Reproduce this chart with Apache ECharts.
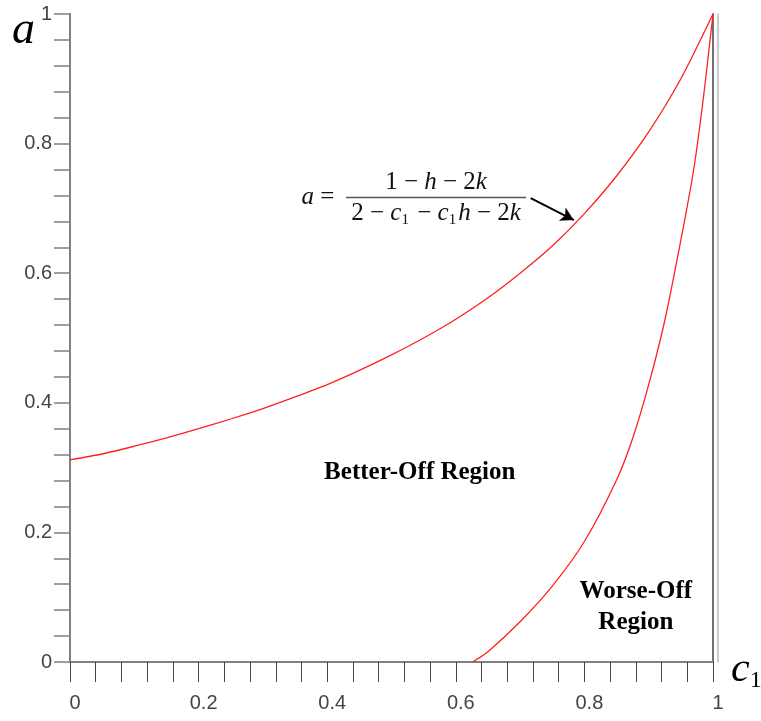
<!DOCTYPE html>
<html>
<head>
<meta charset="utf-8">
<script src="https://cdn.jsdelivr.net/npm/echarts@6/dist/echarts.min.js"></script>
<style>html,body{margin:0;padding:0;background:#fff;}#chart{width:761px;height:721px;}</style>
</head>
<body>
<div id="chart"></div>
<script>
// ---- data ----
const upperC = [0, 0.05, 0.1, 0.15, 0.2, 0.25, 0.3, 0.35, 0.4, 0.45, 0.5, 0.55, 0.6, 0.65, 0.7, 0.75, 0.8, 0.85, 0.9, 0.95, 1.0];
const upperA = [0.312, 0.321, 0.333, 0.346, 0.360, 0.375, 0.391, 0.409, 0.428, 0.450, 0.474, 0.500, 0.529, 0.562, 0.600, 0.642, 0.692, 0.750, 0.818, 0.900, 1.0];
const lowerC = [0.626, 0.65, 0.7, 0.75, 0.8, 0.85, 0.875, 0.9, 0.925, 0.95, 0.97, 0.985, 1.0];
const lowerA = [0, 0.016, 0.062, 0.117, 0.186, 0.281, 0.345, 0.428, 0.527, 0.651, 0.76, 0.87, 1.0];
const tickValues = [0, 0.2, 0.4, 0.6, 0.8, 1];
const regionLabels = [
  { text: 'Better-Off Region', c: 0.544, a: 0.293 },
  { text: 'Worse-Off\nRegion', c: 0.880, a: 0.085 }
];
const formulaLhsPos = [0.3855, 0.7176];
const formulaFracPos = [0.5693, 0.7168];
const arrowFrom = [0.7165, 0.716];
const arrowTo = [0.7835, 0.682];

const zip = (xs, ys) => xs.map((x, i) => [x, ys[i]]);
const fmt = v => {
  const r = Math.round(v * 10) / 10;
  return tickValues.some(t => Math.abs(t - r) < 1e-9) ? String(r) : '';
};

const serif = 'Liberation Serif';
const chart = echarts.init(document.getElementById('chart'), null, { renderer: 'canvas' });
chart.setOption({
  animation: false,
  backgroundColor: '#fff',
  grid: { left: 70, right: 48, top: 14, bottom: 59, containLabel: false, outerBoundsMode: 'none' },
  xAxis: [{
    type: 'value', min: 0, max: 1, interval: 0.2,
    name: '{c|c}{s|1}', nameLocation: 'end', nameGap: 18, nameMoveOverlap: false,
    nameTextStyle: {
      rich: {
        c: { fontFamily: serif, fontStyle: 'italic', fontSize: 42, color: '#000', padding: [16, 0, 0, 0] },
        s: { fontFamily: serif, fontSize: 24, color: '#000', padding: [38, 0, 0, 0] }
      }
    },
    axisLine: { show: true, onZero: false, lineStyle: { color: '#333', width: 1.5 } },
    axisTick: { show: true, inside: false, length: 20, lineStyle: { color: '#444', width: 1 } },
    minorTick: { show: true, splitNumber: 5, length: 20, lineStyle: { color: '#444', width: 1 } },
    axisLabel: { margin: 31, fontFamily: 'Liberation Sans', fontSize: 20, color: '#444', padding: [0, 0, 0, 10], formatter: fmt },
    splitLine: { show: false }, minorSplitLine: { show: false }
  }, {
    type: 'value', min: 0, max: 1, position: 'top',
    axisLine: { show: true, lineStyle: { color: '#808080', width: 2 } },
    axisTick: { show: false }, axisLabel: { show: false }, splitLine: { show: false }
  }],
  yAxis: [{
    type: 'value', min: 0, max: 1, interval: 0.2,
    name: 'a', nameLocation: 'end', nameGap: -17, nameMoveOverlap: false,
    nameTextStyle: { fontFamily: serif, fontStyle: 'italic', fontSize: 46, color: '#000', align: 'right', verticalAlign: 'middle', padding: [0, 35, 0, 0] },
    axisLine: { show: true, onZero: false, lineStyle: { color: '#808080', width: 2 } },
    axisTick: { show: true, inside: false, length: 16, lineStyle: { color: '#808080', width: 1.5 } },
    minorTick: { show: true, splitNumber: 5, length: 16, lineStyle: { color: '#808080', width: 1.5 } },
    axisLabel: { margin: 18, fontFamily: 'Liberation Sans', fontSize: 20, color: '#444', formatter: fmt },
    splitLine: { show: false }, minorSplitLine: { show: false }
  }, {
    type: 'value', min: 0, max: 1, position: 'right',
    axisLine: { show: true, onZero: false, lineStyle: { color: '#707070', width: 2 } },
    axisTick: { show: false }, axisLabel: { show: false }, splitLine: { show: false }
  }, {
    type: 'value', min: 0, max: 1, position: 'right', offset: 5,
    axisLine: { show: true, onZero: false, lineStyle: { color: '#b8b8b8', width: 1.5 } },
    axisTick: { show: false }, axisLabel: { show: false }, splitLine: { show: false }
  }],
  series: [{
    type: 'line', name: 'upper', data: zip(upperC, upperA),
    smooth: 0.25, showSymbol: false, symbol: 'none',
    lineStyle: { color: '#ff2020', width: 1.3 }
  }, {
    type: 'line', name: 'lower', data: zip(lowerC, lowerA),
    smooth: 0.25, showSymbol: false, symbol: 'none',
    lineStyle: { color: '#ff2020', width: 1.3 }
  }, {
    type: 'scatter', name: 'regions', symbolSize: 0, silent: true,
    itemStyle: { opacity: 1 },
    data: regionLabels.map(r => ({ value: [r.c, r.a], name: r.text })),
    label: {
      show: true, position: 'inside', formatter: p => p.name, opacity: 1,
      fontFamily: serif, fontWeight: 'bold', fontSize: 25, color: '#000', lineHeight: 31, align: 'center'
    }
  }, {
    type: 'scatter', name: 'formula', symbolSize: 0, silent: true,
    itemStyle: { opacity: 1 },
    data: [
      { value: formulaLhsPos, kind: 'lhs' },
      { value: formulaFracPos, kind: 'frac' }
    ],
    label: {
      show: true, position: 'inside', color: '#111', opacity: 1,
      formatter: p => p.data.kind === 'lhs'
        ? '{i|a}{n| =}'
        : '{n|1 \u2212 }{i|h}{n| \u2212 2}{i|k}\n{b|}\n{n|2 \u2212 }{i|c}{s|1}{n| \u2212 }{i|c}{s|1}{i|h}{n| \u2212 2}{i|k}',
      rich: {
        n: { fontFamily: serif, fontSize: 25, color: '#111', lineHeight: 27 },
        i: { fontFamily: serif, fontStyle: 'italic', fontSize: 25, color: '#111', lineHeight: 27 },
        s: { fontFamily: serif, fontSize: 15, color: '#111', padding: [15, 2, 0, 0], lineHeight: 27 },
        b: { width: 180, height: 1.5, backgroundColor: '#555', lineHeight: 4 }
      }
    },
    markLine: {
      silent: true, symbol: ['none', 'arrow'], symbolSize: [11, 13],
      lineStyle: { color: '#000', width: 2, type: 'solid' },
      label: { show: false },
      data: [[{ coord: arrowFrom }, { coord: arrowTo }]]
    }
  }]
});
</script>
</body>
</html>
